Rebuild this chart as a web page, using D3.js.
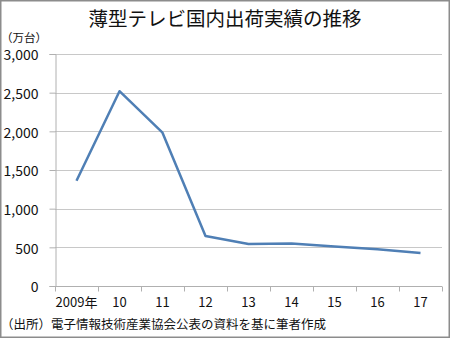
<!DOCTYPE html>
<html>
<head>
<meta charset="utf-8">
<script src="https://cdn.jsdelivr.net/npm/d3@7"></script>
<style>
  body { margin: 0; background: #fff; }
  svg { display: block; }
</style>
</head>
<body>
<svg id="chart" width="450" height="338"></svg>
<script>
// Data (unit: 10,000 sets)
var years = ["2009", "10", "11", "12", "13", "14", "15", "16", "17"];
var yearLabels = ["2009年", "10", "11", "12", "13", "14", "15", "16", "17"];
var shipments = [1360, 2519, 1982, 647, 543, 549, 512, 476, 428];
var yTicks = [0, 500, 1000, 1500, 2000, 2500, 3000];

var svg = d3.select("#chart"),
    width = +svg.attr("width"),
    height = +svg.attr("height");

var font = "'Noto Sans CJK JP', 'Noto Sans', sans-serif";
var plot = { left: 55, right: 442, top: 54, bottom: 286 };

// Outer frame
svg.append("rect")
    .attr("x", 0.75).attr("y", 0.75)
    .attr("width", width - 1.5).attr("height", height - 1.5)
    .attr("fill", "#fff")
    .attr("stroke", "#8c8c8c")
    .attr("stroke-width", 1.5);

var x = d3.scaleBand()
    .domain(years)
    .range([plot.left, plot.right]);

var y = d3.scaleLinear()
    .domain([0, 3000])
    .range([plot.bottom, plot.top]);

// Gridlines
svg.append("g")
    .selectAll("line")
    .data(yTicks)
    .enter()
    .append("line")
    .attr("x1", plot.left)
    .attr("x2", plot.right)
    .attr("y1", function (d) { return Math.round(y(d)) + 0.5; })
    .attr("y2", function (d) { return Math.round(y(d)) + 0.5; })
    .style("stroke", "#c8c8c8")
    .attr("stroke-width", 1);

// Y axis
var yAxis = svg.append("g")
    .attr("transform", "translate(" + (plot.left + 0.5) + ",0)")
    .call(d3.axisLeft(y).tickValues(yTicks).tickSize(6).tickPadding(11)
        .tickFormat(d3.format(",")));
yAxis.select(".domain").attr("stroke", "#b0b0b0");
yAxis.selectAll(".tick line").attr("stroke", "#b0b0b0");
yAxis.selectAll(".tick text")
    .style("font-family", font)
    .style("font-size", "14px")
    .attr("dy", "0.42em")
    .attr("fill", "#111");

// X axis with ticks at category boundaries
var xAxis = svg.append("g")
    .attr("transform", "translate(0," + (Math.round(y(0)) + 0.5) + ")");
xAxis.append("line")
    .attr("x1", plot.left).attr("x2", plot.right)
    .attr("stroke", "#b0b0b0");
xAxis.selectAll(".bound")
    .data(years.concat(["end"]))
    .enter()
    .append("line")
    .attr("class", "bound")
    .attr("x1", function (d, i) { return Math.round(plot.left + i * x.bandwidth()) + 0.5; })
    .attr("x2", function (d, i) { return Math.round(plot.left + i * x.bandwidth()) + 0.5; })
    .attr("y1", 0).attr("y2", 5)
    .attr("stroke", "#b0b0b0");
xAxis.selectAll("text")
    .data(years)
    .enter()
    .append("text")
    .attr("x", function (d) { return x(d) + x.bandwidth() / 2; })
    .attr("y", 20)
    .attr("text-anchor", "middle")
    .style("font-family", font)
    .style("font-size", "13px")
    .attr("fill", "#111")
    .text(function (d, i) { return yearLabels[i]; });

// Line
var line = d3.line()
    .x(function (d, i) { return x(years[i]) + x.bandwidth() / 2; })
    .y(function (d) { return y(d); });

svg.append("path")
    .datum(shipments)
    .attr("d", line)
    .attr("fill", "none")
    .attr("stroke", "#4f7fb5")
    .attr("stroke-width", 2.5)
    .attr("stroke-linejoin", "round");

// Title, unit, source
svg.append("text")
    .attr("x", 225)
    .attr("y", 26)
    .attr("text-anchor", "middle")
    .style("font-family", font)
    .style("font-size", "19.5px")
    .attr("fill", "#111")
    .text("薄型テレビ国内出荷実績の推移");

svg.append("text")
    .attr("x", 1)
    .attr("y", 42)
    .style("font-family", font)
    .style("font-size", "11.5px")
    .attr("fill", "#111")
    .text("（万台）");

svg.append("text")
    .attr("x", 1)
    .attr("y", 329)
    .style("font-family", font)
    .style("font-size", "12.5px")
    .attr("fill", "#111")
    .text("（出所）電子情報技術産業協会公表の資料を基に筆者作成");
</script>
</body>
</html>
